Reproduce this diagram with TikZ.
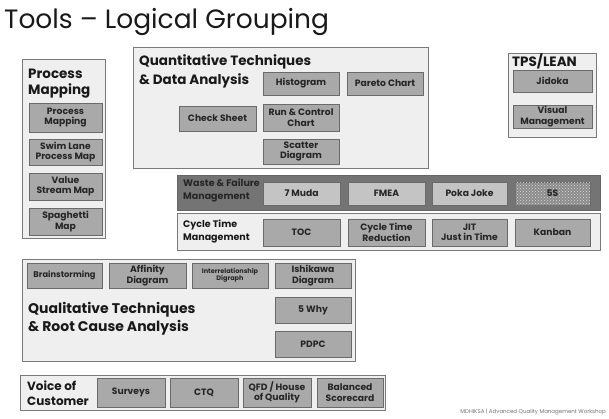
\documentclass[tikz,border=0pt]{standalone}
\usepackage{fontspec}
\setmainfont{Poppins}
\usetikzlibrary{patterns}
\definecolor{grpfill}{HTML}{EFEFEF}
\definecolor{grpline}{HTML}{7A7A7A}
\definecolor{toolfill}{HTML}{A9A9A9}
\definecolor{toolline}{HTML}{6A6A6A}
\definecolor{lightfill}{HTML}{C4C4C4}
\definecolor{wastefill}{HTML}{747474}
\tikzset{
  grp/.style={draw=grpline, fill=grpfill, line width=0.9pt, inner sep=0pt, outer sep=0pt},
  tool/.style={draw=toolline, fill=toolfill, line width=0.8pt, inner sep=1pt, outer sep=0pt,
    align=center, text=black!85, font=\bfseries\fontsize{9.2}{10.5}\selectfont},
  ltool/.style={tool, fill=lightfill},
  gtitle/.style={anchor=base west, inner sep=0pt, align=left, text=black!90,
    font=\bfseries\fontsize{13.5}{16}\selectfont},
  stitle/.style={anchor=base west, inner sep=0pt, align=left, text=black!90,
    font=\bfseries\fontsize{9.5}{13}\selectfont}
}
\begin{document}
\begin{tikzpicture}[x=1pt,y=-1pt]
\useasboundingbox (0,0) rectangle (609,418);
\fill[white] (0,0) rectangle (609,418);
% title
\node[anchor=base west, inner sep=0pt, font=\fontsize{26.5}{30}\selectfont, text=black!90] (title) at (4,28) {Tools – Logical Grouping};

% Process Mapping
\node[grp, minimum width=83pt, minimum height=179pt] (pmg) at (63.5,148.5) {};
\node[gtitle, font=\bfseries\fontsize{13.5}{16}\selectfont] (pmt) at (28,94) {Process\\Mapping};
\node[tool, minimum width=73pt, minimum height=29pt] (pm1) at (65.5,117.5) {Process\\Mapping};
\node[tool, minimum width=73pt, minimum height=26pt] (pm2) at (65.5,152) {Swim Lane\\Process Map};
\node[tool, minimum width=73pt, minimum height=27pt] (pm3) at (65.5,186.5) {Value\\Stream Map};
\node[tool, minimum width=73pt, minimum height=27pt] (pm4) at (65.5,221.5) {Spaghetti\\Map};

% Quantitative
\node[grp, minimum width=295pt, minimum height=121pt] (qg) at (280.5,107.5) {};
\node[gtitle, font=\bfseries\fontsize{13.5}{19}\selectfont] (qt) at (139,84) {Quantitative Techniques\\\& Data Analysis};
\node[tool, minimum width=76pt, minimum height=23pt] (hist) at (301,83.5) {Histogram};
\node[tool, minimum width=76pt, minimum height=23pt] (pareto) at (385,83.5) {Pareto Chart};
\node[tool, minimum width=77pt, minimum height=25pt] (check) at (217.5,118.5) {Check Sheet};
\node[tool, minimum width=76pt, minimum height=27pt] (run) at (301,117.5) {Run \& Control\\Chart};
\node[tool, minimum width=76pt, minimum height=25pt] (scatter) at (301,151.5) {Scatter\\Diagram};

% TPS/LEAN
\node[grp, minimum width=88pt, minimum height=84pt] (tg) at (552,95) {};
\node[gtitle] (tt) at (512,66) {TPS/LEAN};
\node[tool, minimum width=79pt, minimum height=22pt] (jidoka) at (552.5,81) {Jidoka};
\node[tool, minimum width=79pt, minimum height=23pt] (visual) at (552.5,116.5) {Visual\\Management};

% Waste & Failure
\node[grp, fill=wastefill, draw=black!60, minimum width=423pt, minimum height=35pt] (wg) at (388.5,192.5) {};
\node[stitle, text=black!85] (wt) at (183,199) {Waste \& Failure\\Management};
\node[ltool, minimum width=77pt, minimum height=23pt] (muda) at (301.5,193.5) {7 Muda};
\node[ltool, minimum width=77pt, minimum height=23pt] (fmea) at (386.5,193.5) {FMEA};
\node[ltool, minimum width=75pt, minimum height=23pt] (poka) at (469.5,193.5) {Poka Joke};
\node[tool, fill=black!45, minimum width=75pt, minimum height=23pt] (fives) at (552.5,193.5) {};
\fill[pattern=crosshatch dots, pattern color=white!85!black] (fives.south west) rectangle (fives.north east);
\node[font=\bfseries\fontsize{9.2}{10.5}\selectfont, text=black!85] (fivest) at (fives.center) {5S};

% Cycle Time
\node[grp, minimum width=423pt, minimum height=37pt] (cg) at (388.5,231.5) {};
\node[stitle] (ct) at (183,240) {Cycle Time\\Management};
\node[tool, minimum width=77pt, minimum height=27pt] (toc) at (301.5,232.5) {TOC};
\node[tool, minimum width=77pt, minimum height=27pt] (ctr) at (386.5,232.5) {Cycle Time\\Reduction};
\node[tool, minimum width=75pt, minimum height=27pt] (jit) at (469.5,232.5) {JIT\\Just in Time};
\node[tool, minimum width=75pt, minimum height=27pt] (kanban) at (552.5,232.5) {Kanban};

% Qualitative
\node[grp, minimum width=333pt, minimum height=102pt] (qlg) at (188.5,310) {};
\node[gtitle, font=\bfseries\fontsize{14}{18}\selectfont] (qlt) at (28,331) {Qualitative Techniques\\\& Root Cause Analysis};
\node[tool, minimum width=75pt, minimum height=25pt, font=\bfseries\fontsize{8.3}{9}\selectfont] (brain) at (64.5,275.5) {Brainstorming};
\node[tool, minimum width=77pt, minimum height=25pt] (affinity) at (147.5,275.5) {Affinity\\Diagram};
\node[tool, minimum width=76pt, minimum height=25pt, font=\bfseries\fontsize{6.5}{7.5}\selectfont] (inter) at (230,275.5) {Interrelationship\\Digraph};
\node[tool, minimum width=76pt, minimum height=25pt] (ishikawa) at (313,275.5) {Ishikawa\\Diagram};
\node[tool, minimum width=76pt, minimum height=26pt] (why) at (313,310) {5 Why};
\node[tool, minimum width=76pt, minimum height=26pt] (pdpc) at (313,344) {PDPC};

% Voice of Customer
\node[grp, minimum width=365pt, minimum height=35pt] (vg) at (202.5,392.5) {};
\node[gtitle, font=\bfseries\fontsize{12}{14.5}\selectfont] (vt) at (27,405) {Voice of\\Customer};
\node[tool, minimum width=68pt, minimum height=29pt] (surveys) at (131,392.5) {Surveys};
\node[tool, minimum width=68pt, minimum height=29pt] (ctq) at (204,392.5) {CTQ};
\node[tool, minimum width=68pt, minimum height=29pt] (qfd) at (277,392.5) {QFD / House\\of Quality};
\node[tool, minimum width=66pt, minimum height=29pt] (balanced) at (350,392.5) {Balanced\\Scorecard};

% footer
\node[anchor=base east, inner sep=0pt, font=\fontsize{5.5}{6}\selectfont, text=black!55] (footer) at (606,413) {MDHIKSA | Advanced Quality Management Workshop};
\end{tikzpicture}
\end{document}
